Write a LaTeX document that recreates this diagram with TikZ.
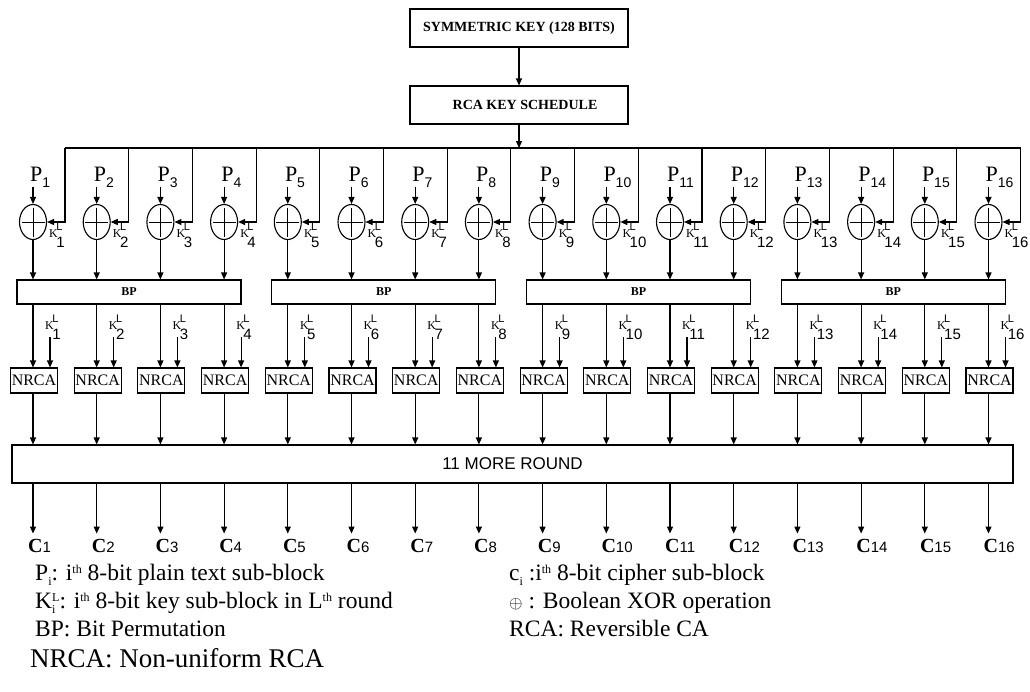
\documentclass[tikz,border=0pt]{standalone}
\usepackage{fontspec}
\setmainfont{Liberation Serif}
\newfontfamily\arial{Liberation Sans}
\usetikzlibrary{shapes.geometric,arrows.meta,calc}
\newcommand{\fs}[1]{\fontsize{#1}{#1}\selectfont}
\newcommand{\klab}[1]{{\fs{12}K}\kern-1.5pt\rlap{\arial\fs{11}\raisebox{7pt}{L}}{\arial\fs{15}\raisebox{-10pt}{#1}}}
\newcommand{\lsub}[1]{\raisebox{-5pt}{\fs{12}#1}}
\newcommand{\lsup}[1]{\raisebox{7pt}{\fs{12}#1}}
\begin{document}
\begin{tikzpicture}[x=1pt,y=-1pt,
  ln/.style={line width=1.1pt},
  arr/.style={line width=1.1pt,-{Triangle[length=7pt,width=6pt]}},
  box/.style={draw,line width=1.1pt,inner sep=0pt},
  xorst/.style={draw,ellipse,line width=1.1pt,minimum width=27pt,minimum height=35pt,inner sep=0pt,
    path picture={\draw[line width=1pt] ([xshift=2pt]path picture bounding box.west) -- ([xshift=-2pt]path picture bounding box.east);
                  \draw[line width=1pt] ([yshift=-3pt]path picture bounding box.north) -- ([yshift=3pt]path picture bounding box.south);}},
  lab/.style={anchor=base west,inner sep=0pt}
]
\useasboundingbox (0,0) rectangle (1030,691);
\fill[white] (0,0) rectangle (1030,691);

\node[box,minimum width=218pt,minimum height=38pt,font=\bfseries\fs{14}] (sym) at (519,28) {SYMMETRIC KEY (128 BITS)};
\node[box,minimum width=218pt,minimum height=38pt,font=\bfseries\fs{14}] (rca) at (519,105) {\hspace*{12pt}RCA KEY SCHEDULE};
\draw[arr] (sym.south) -- (rca.south |- rca.north);

\foreach \g in {0,...,3}{
  \node[box,minimum width=224pt,minimum height=24pt,font=\bfseries\fs{12}] (bp\g) at ({129+254.8*\g},292) {BP};
}
\node[box,minimum width=1001pt,minimum height=38pt,font=\arial\fs{17}] (big) at (512.5,464) {11 MORE ROUND};

\foreach \i in {1,...,16}{
  \pgfmathsetmacro\cx{33+63.7*(\i-1)}
  \pgfmathtruncatemacro\g{(\i-1)/4}
  \coordinate (col\i) at (\cx,0);
  \coordinate (kt\i) at (\cx+32,148);
  \coordinate (ks\i) at (\cx+17,337);
  \node[lab] (p\i) at (\cx-3,181) {{\fs{22}P}{\arial\fs{14}\raisebox{-6pt}{\i}}};
  \node[xorst] (xor\i) at (\cx,222) {};
  \node[lab] (ka\i) at (\cx+16,237) {\klab{\i}};
  \node[box,minimum width=47pt,minimum height=25pt,font=\fs{16}] (nr\i) at (\cx+1,380.5) {NRCA};
  \node[lab] (kb\i) at (\cx+12,329) {\klab{\i}};
  \node[lab,inner ysep=5pt] (c\i) at (\cx-5,552) {{\bfseries\fs{20}C}{\arial\fs{15}\i}};
  \draw[arr] (col\i |- p\i.south) -- (xor\i.north);
  \draw[arr] (kt\i) |- (xor\i.east);
  \draw[arr] (xor\i.south) -- (xor\i.south |- bp\g.north);
  \draw[arr] (col\i |- bp\g.south) -- (col\i |- nr\i.north);
  \draw[arr] (ks\i) -- (ks\i |- nr\i.north);
  \draw[arr] (col\i |- nr\i.south) -- (col\i |- big.north);
  \draw[arr] (col\i |- big.south) -- (col\i |- c\i.north);
}
\draw[ln] (kt1) -- (kt16);
\draw[arr] (rca.south) -- (rca.south |- kt1);

\node[lab,font=\fs{23.5}] (lg1) at (35,580) {P\lsub{i}: i\lsup{th} 8-bit plain text sub-block};
\node[lab,font=\fs{23.5}] (lg2) at (35,608) {K\rlap{\lsub{i}}\lsup{L}: i\lsup{th} 8-bit key sub-block in L\lsup{th} round};
\node[lab,font=\fs{23.5}] (lg3) at (35,636) {BP: Bit Permutation};
\node[lab,font=\fs{27}] (lg4) at (30,667) {NRCA: Non-uniform RCA};
\node[lab,font=\fs{23.5}] (lg5) at (509,580) {c\lsub{i} :i\lsup{th} 8-bit cipher sub-block};
\node[lab,font=\fs{23.5}] (lg6) at (509,608) {{\fs{17}$\oplus$} : Boolean XOR operation};
\node[lab,font=\fs{23.5}] (lg7) at (509,636) {RCA: Reversible CA};
\end{tikzpicture}
\end{document}
